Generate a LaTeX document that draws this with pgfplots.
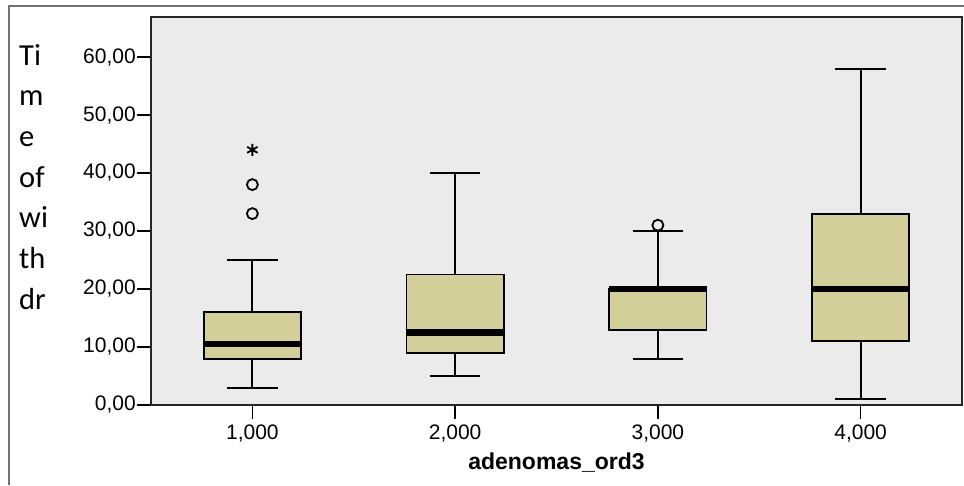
\documentclass[border=0pt]{standalone}
\usepackage{fontspec}
\setmainfont{Liberation Sans}
\newfontfamily\carl{Carlito}
\usepackage{pgfplots}
\usepgfplotslibrary{statistics}
\pgfplotsset{compat=1.18}
\definecolor{bg}{HTML}{EBEBEB}
\definecolor{boxc}{HTML}{D3CF9B}
\begin{document}
\begin{tikzpicture}[x=1pt,y=1pt]
\useasboundingbox (0,0) rectangle (964,485);
\draw[black!55, line width=1.5pt] (9,0) -- (9,479) -- (964,479);
\node[anchor=north west, align=left, font=\carl\fontsize{30.5}{40.7}\selectfont, inner sep=0pt] at (19,441) {Ti\\m\\e\\of\\wi\\th\\dr};
\begin{axis}[at={(151pt,80pt)}, anchor=south west, scale only axis,
  width=811pt, height=388pt,
  xmin=0.5, xmax=4.5, ymin=0, ymax=66.9,
  xtick={1,2,3,4}, xticklabels={{1,000},{2,000},{3,000},{4,000}},
  ytick={0,10,20,30,40,50,60},
  yticklabels={{0,00},{10,00},{20,00},{30,00},{40,00},{50,00},{60,00}},
  axis background/.style={fill=bg},
  axis line style={black!85, line width=1.8pt},
  tick style={black, line width=1.6pt}, major tick length=14pt, tick align=outside,
  xtick pos=bottom, ytick pos=left,
  tick label style={font=\fontsize{21}{23}\selectfont},
  yticklabel style={inner sep=1pt},
  xticklabel style={inner sep=2pt, yshift=-4pt},
  xlabel={\textbf{adenomas\_ord3}},
  xlabel style={font=\fontsize{23}{25}\selectfont, yshift=-5pt},
  boxplot/draw direction=y,
  boxplot/every median/.style={line width=6.5pt},
]
\addplot[boxplot prepared={median=10.5, upper quartile=16, lower quartile=8, upper whisker=25, lower whisker=3, draw position=1, box extend=0.48, whisker extend=0.25}, draw=black, fill=boxc, line width=1.9pt] coordinates {};
\addplot[boxplot prepared={median=12.5, upper quartile=22.5, lower quartile=9, upper whisker=40, lower whisker=5, draw position=2, box extend=0.48, whisker extend=0.25}, draw=black, fill=boxc, line width=1.9pt] coordinates {};
\addplot[boxplot prepared={median=20, upper quartile=20, lower quartile=13, upper whisker=30, lower whisker=8, draw position=3, box extend=0.48, whisker extend=0.25}, draw=black, fill=boxc, line width=1.9pt] coordinates {};
\addplot[boxplot prepared={median=20, upper quartile=33, lower quartile=11, upper whisker=58, lower whisker=1, draw position=4, box extend=0.48, whisker extend=0.25}, draw=black, fill=boxc, line width=1.9pt] coordinates {};
\addplot[only marks, mark=o, mark size=5.5pt, line width=1.8pt, black] coordinates {(1,38) (1,33) (3,31)};
\addplot[only marks, mark=asterisk, mark size=6pt, line width=1.8pt, black] coordinates {(1,44)};
\end{axis}
\end{tikzpicture}
\end{document}
